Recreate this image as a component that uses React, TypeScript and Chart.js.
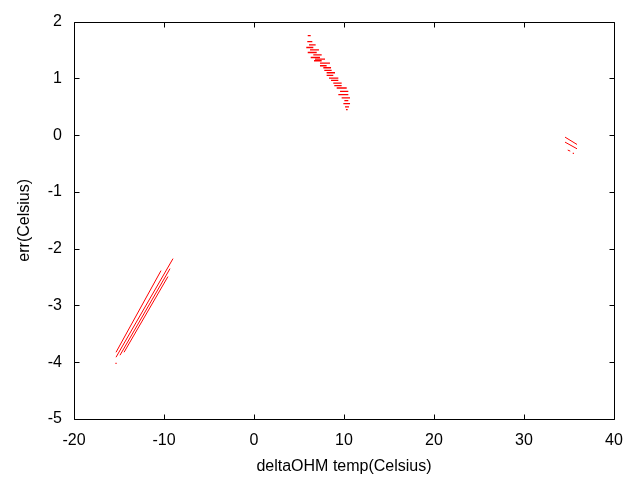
import React, { useEffect, useRef } from "react";
import { Chart, registerables } from "chart.js";

Chart.register(...registerables);

// Axis settings
const xTicks = [-20, -10, 0, 10, 20, 30, 40];
const yTicks = [-5, -4, -3, -2, -1, 0, 1, 2];
const xTitle = "deltaOHM temp(Celsius)";
const yTitle = "err(Celsius)";

// Lower-left cluster: diagonal strands [x1, y1, x2, y2]
const lowerStrands = [
  [-15.33, -3.825, -10.33, -2.386],
  [-15.33, -3.912, -9.0, -2.175],
  [-14.89, -3.877, -9.33, -2.351],
  [-14.44, -3.825, -9.56, -2.491],
];

// Middle cluster: short horizontal dashes (err level, x start, x end)
const midY = [1.754, 1.649, 1.591, 1.544, 1.503, 1.456, 1.415, 1.368, 1.339, 1.31, 1.269, 1.222, 1.187, 1.14, 1.099, 1.053, 1.006, 0.965, 0.918, 0.871, 0.83, 0.772, 0.713, 0.655, 0.608, 0.556, 0.497, 0.45];
const midX1 = [5.97, 5.92, 6.11, 5.81, 6.22, 5.97, 6.59, 6.3, 6.78, 6.67, 7.33, 7.33, 7.7, 7.81, 8.07, 8.07, 8.33, 8.56, 8.81, 8.92, 9.19, 9.56, 9.37, 9.74, 10.04, 9.93, 10.11, 10.22];
const midX2 = [6.3, 6.48, 6.85, 6.59, 7.22, 6.97, 7.52, 7.33, 7.89, 7.52, 8.44, 8.07, 8.56, 8.63, 9.0, 8.81, 9.37, 9.37, 9.74, 9.74, 10.3, 10.48, 10.48, 10.67, 10.48, 10.67, 10.56, 10.41];

// Right cluster strands [x1, y1, x2, y2]
const rightStrands = [
  [34.56, -0.035, 35.89, -0.164],
  [34.56, -0.123, 35.89, -0.24],
  [34.86, -0.263, 35.14, -0.281],
];

// Isolated dots
const dotX = [-15.33, 35.48];
const dotY = [-4.02, -0.321];

const RED = "#ff0000";
const FONT = { family: "'Liberation Sans', Arial, sans-serif", size: 16 };

const framePlugin = {
  id: "gnuFrame",
  afterDraw(chart: any) {
    const { ctx, chartArea: a, scales } = chart;
    const L = Math.round(a.left) + 0.5;
    const R = Math.round(a.right) + 0.5;
    const T = Math.round(a.top) + 0.5;
    const B = Math.round(a.bottom) + 0.5;
    ctx.save();
    ctx.strokeStyle = "#000";
    ctx.lineWidth = 1;
    ctx.beginPath();
    ctx.rect(L, T, R - L, B - T);
    const len = 5;
    xTicks.forEach((v) => {
      const px = Math.round(scales.x.getPixelForValue(v)) + 0.5;
      ctx.moveTo(px, B);
      ctx.lineTo(px, B - len);
      ctx.moveTo(px, T);
      ctx.lineTo(px, T + len);
    });
    yTicks.forEach((v) => {
      const py = Math.round(scales.y.getPixelForValue(v)) + 0.5;
      ctx.moveTo(L, py);
      ctx.lineTo(L + len, py);
      ctx.moveTo(R, py);
      ctx.lineTo(R - len, py);
    });
    ctx.stroke();
    ctx.restore();
  },
};

export default function App() {
  const ref = useRef<HTMLCanvasElement | null>(null);

  useEffect(() => {
    if (!ref.current) return;
    const segDs = (s: number[], w: number) => ({
      data: [
        { x: s[0], y: s[1] },
        { x: s[2], y: s[3] },
      ],
      showLine: true,
      borderColor: RED,
      backgroundColor: RED,
      borderWidth: w,
      pointRadius: 0,
    });
    const datasets: any[] = [];
    lowerStrands.forEach((s) => datasets.push(segDs(s, 1)));
    midY.forEach((y, i) => datasets.push(segDs([midX1[i], y, midX2[i], y], 1.3)));
    rightStrands.forEach((s) => datasets.push(segDs(s, 1)));
    datasets.push({
      data: dotX.map((x, i) => ({ x, y: dotY[i] })),
      showLine: false,
      pointStyle: "rect",
      pointRadius: 0.8,
      borderWidth: 0,
      backgroundColor: RED,
      borderColor: RED,
    });

    const chart = new Chart(ref.current, {
      type: "scatter",
      data: { datasets },
      options: {
        animation: false,
        responsive: false,
        events: [],
        layout: { padding: { left: 0, right: 26, top: 20, bottom: 0 } },
        plugins: { legend: { display: false }, tooltip: { enabled: false } },
        scales: {
          x: {
            type: "linear",
            min: -20,
            max: 40,
            afterBuildTicks: (s: any) => {
              s.ticks = xTicks.map((v) => ({ value: v }));
            },
            ticks: { color: "#000", font: FONT, padding: 12, maxRotation: 0 },
            grid: { display: false, drawTicks: false },
            border: { display: false },
            title: { display: true, text: xTitle, color: "#000", font: FONT, padding: { top: 0, bottom: 4 } },
            afterFit: (s: any) => {
              s.height = 61;
            },
          },
          y: {
            type: "linear",
            min: -5,
            max: 2,
            afterBuildTicks: (s: any) => {
              s.ticks = yTicks.map((v) => ({ value: v }));
            },
            ticks: { color: "#000", font: FONT, padding: 12 },
            grid: { display: false, drawTicks: false },
            border: { display: false },
            title: { display: true, text: yTitle, color: "#000", font: FONT, padding: { top: 15, bottom: 0 } },
            afterFit: (s: any) => {
              s.width = 74;
            },
          },
        },
      },
      plugins: [framePlugin],
    });
    return () => chart.destroy();
  }, []);

  return (
    <div style={{ position: "absolute", left: 0, top: 0, width: 640, height: 480, background: "#fff" }}>
      <canvas ref={ref} width={640} height={480} style={{ display: "block" }} />
    </div>
  );
}
